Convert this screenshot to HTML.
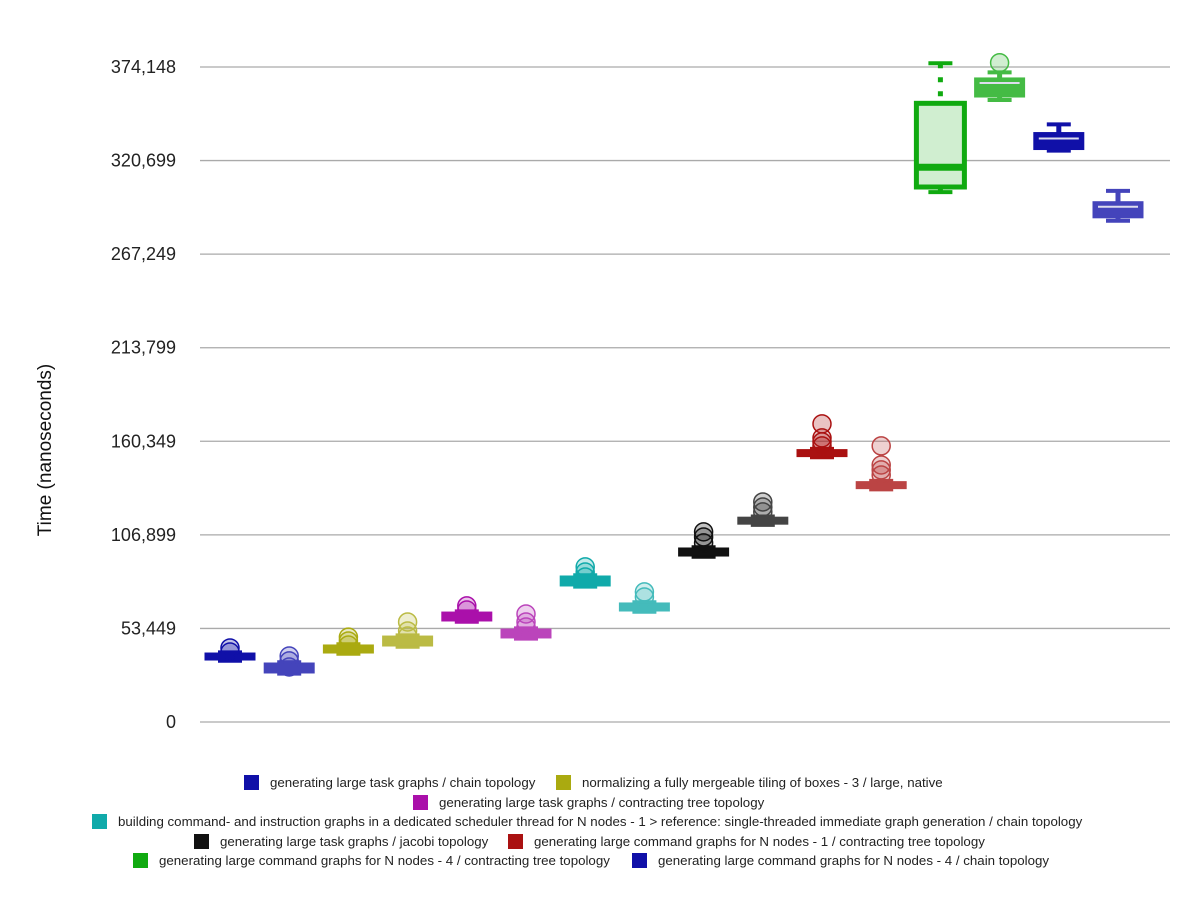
<!DOCTYPE html>
<html><head><meta charset="utf-8"><style>
body{margin:0;background:#fff;font-family:"Liberation Sans",sans-serif;}
svg text{font-family:"Liberation Sans",sans-serif;}
</style></head><body>
<svg id="chart" width="1200" height="900" xmlns="http://www.w3.org/2000/svg">
<g id="grid"></g>
<g id="yticks"></g>
<text x="51" y="450" font-size="19" fill="#111" text-anchor="middle" transform="rotate(-90 51 450)">Time (nanoseconds)</text>
<g id="boxes"></g>
<g id="legend"></g>
</svg>
<script>
const tickValues=[0,53449,106899,160349,213799,267249,320699,374148];
const tickLabels=["0","53,449","106,899","160,349","213,799","267,249","320,699","374,148"];
const colors=["#1010a8","#4444bb","#aaaa10","#bbbb44","#aa10aa","#bb44bb","#10aaaa","#44bbbb","#111111","#444444","#aa1111","#bb4444","#10aa10","#44bb44","#1010a8","#4444bb"];
const q1s=[35400,28000,39400,43400,57700,48000,77700,63400,94800,113000,151600,133300,305600,357000,327000,288000];
const q3s=[39400,33700,44000,49100,62800,53100,83400,68000,99400,117000,155600,137300,353400,367900,336700,297200];
const meds=[37100,30300,41700,46300,60000,50800,80500,65700,97100,115300,153600,135000,316900,365000,333300,294300];
const whLo=[35000,27600,39000,43000,57300,47600,77300,63000,94400,112600,151200,132900,302700,355300,326400,286300];
const whHi=[39800,34100,44400,49500,63200,53500,83800,68400,99800,117400,156000,137700,376300,371100,341400,303400];
const outliers=[[42300,40000],[37700,34900,31400],[48500,46300,44000],[57100,52000,49100],[66300,64000],[61700,57100,54300],[88600,85700,82800],[74300,71400],[108600,105700,102300],[125700,122800,120000],[170300,162300,160000,157700],[157700,146800,144000,141100],[],[376600],[],[]];
const legendLabels=["generating large task graphs / chain topology","normalizing a fully mergeable tiling of boxes - 3 / large, native","generating large task graphs / contracting tree topology","building command- and instruction graphs in a dedicated scheduler thread for N nodes - 1 > reference: single-threaded immediate graph generation / chain topology","generating large task graphs / jacobi topology","generating large command graphs for N nodes - 1 / contracting tree topology","generating large command graphs for N nodes - 4 / contracting tree topology","generating large command graphs for N nodes - 4 / chain topology"];
const legendColors=["#1010a8","#aaaa10","#aa10aa","#10aaaa","#111111","#aa1111","#10aa10","#1010a8"];
const legendPos=[[244,782],[556,782],[413,802],[92,821],[194,841],[508,841],[133,860],[632,860]];

const NS="http://www.w3.org/2000/svg";
const Y0=722,Y1=67,VMAX=374148;
function y(v){return Y0-(v/VMAX)*(Y0-Y1);}
function x(i){return 230+i*59.2;}
function mk(tag,attrs,parent){const e=document.createElementNS(NS,tag);for(const k in attrs)e.setAttribute(k,attrs[k]);parent.appendChild(e);return e;}
const grid=document.getElementById('grid'),yt=document.getElementById('yticks');
tickValues.forEach((v,i)=>{
  const l=mk('line',{x1:200,x2:1170,y1:y(v),y2:y(v),stroke:'#aaa','stroke-width':1.3},grid);
  
  
  const t=mk('text',{x:176,y:y(v)+6,'font-size':18,fill:'#222','text-anchor':'end'},yt);
  t.textContent=tickLabels[i];
  
  
});
const bx=document.getElementById('boxes');
colors.forEach((c,i)=>{
  const g=mk('g',{},bx);
  
  
  const cx=x(i),w=50;
  const big=(y(q1s[i])-y(q3s[i]))>30;
  mk('line',{x1:cx,x2:cx,y1:y(whHi[i]),y2:y(q3s[i]),stroke:c,'stroke-width':5,'stroke-dasharray':big?'5,9':'none'},g);
  mk('line',{x1:cx,x2:cx,y1:y(q1s[i]),y2:y(whLo[i]),stroke:c,'stroke-width':5},g);
  mk('line',{x1:cx-12,x2:cx+12,y1:y(whHi[i]),y2:y(whHi[i]),stroke:c,'stroke-width':4},g);
  mk('line',{x1:cx-12,x2:cx+12,y1:y(whLo[i]),y2:y(whLo[i]),stroke:c,'stroke-width':4},g);
  const h=Math.max(y(q1s[i])-y(q3s[i]),4);
  if(big){
    mk('rect',{x:cx-24,y:y(q3s[i]),width:48,height:h,fill:'#d0eed0',stroke:c,'stroke-width':5},g);
    mk('line',{x1:cx-24,x2:cx+24,y1:y(meds[i]),y2:y(meds[i]),stroke:c,'stroke-width':7},g);
  }else{
    mk('rect',{x:cx-w/2,y:y(q3s[i]),width:w,height:h,fill:c,stroke:c,'stroke-width':1},g);
    if(h>12) mk('line',{x1:cx-20,x2:cx+20,y1:y(meds[i]),y2:y(meds[i]),stroke:'#dde','stroke-width':2},g);
  }
  outliers[i].forEach(v=>{
    const o=mk('circle',{cx:cx,cy:y(v),r:9,fill:c,'fill-opacity':0.25,stroke:c,'stroke-width':1.5},g);
    
    
  });
});
const lg=document.getElementById('legend');
legendLabels.forEach((s,i)=>{
  const [lx,ly]=legendPos[i];
  const g=mk('g',{},lg);
  
  
  mk('rect',{x:lx,y:ly-7,width:15,height:15,fill:legendColors[i]},g);
  const t=mk('text',{x:lx+26,y:ly+5,'font-size':13.3,fill:'#222'},g);
  t.textContent=s;
});
</script>
</body></html>
